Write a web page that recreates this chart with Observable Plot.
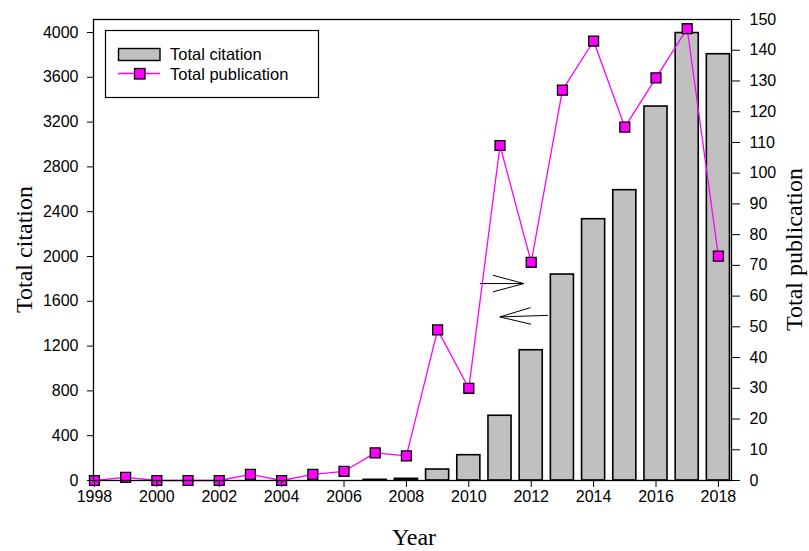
<!DOCTYPE html>
<html><head><meta charset="utf-8">
<script src="https://cdn.jsdelivr.net/npm/d3@7"></script>
<script src="https://cdn.jsdelivr.net/npm/@observablehq/plot@0.6"></script>
<style>
body{margin:0;background:#fff}
#chart{position:relative;width:809px;height:551px}
</style>
</head><body><div id="chart"></div>
<script>
// ---- data ----
const years        = [1998,1999,2000,2001,2002,2003,2004,2005,2006,2007,2008,2009,2010,2011,2012,2013,2014,2015,2016,2017,2018];
const citations    = [0,0,0,0,0,0,0,0,0,6,15,98,226,578,1163,1839,2333,2592,3339,3995,3806];
const publications = [0,1,0,0,0,2,0,2,3,9,8,49,30,109,71,127,143,115,131,147,73];

const xTicks     = [1998,2000,2002,2004,2006,2008,2010,2012,2014,2016,2018];
const leftTicks  = [0,400,800,1200,1600,2000,2400,2800,3200,3600,4000];
const rightTicks = [0,10,20,30,40,50,60,70,80,90,100,110,120,130,140,150];

// annotation arrows (data coordinates): tail year -> tip year, values on left (citation) scale
const arrowFromYear = [2010.37, 2012.55];
const arrowToYear   = [2011.78, 2011.01];
const arrowFromVal  = [1754, 1470];
const arrowToVal    = [1754, 1456];

const citationMax = 4116;          // top of left axis domain
const pubMax = 150;                // top of right axis domain
const k = citationMax / pubMax;

const data = years.map((year, i) => ({year, citation: citations[i], publication: publications[i]}));
const arrows = arrowFromYear.map((_, i) => ({x1: arrowFromYear[i], x2: arrowToYear[i], y1: arrowFromVal[i], y2: arrowToVal[i]}));

function arrowMark(index, scales) {
  const g = d3.create("svg:g").attr("fill", "none").attr("stroke", "#000").attr("stroke-width", 1);
  arrows.forEach(a => {
    const x1 = scales.x(a.x1), y1 = scales.y(a.y1), x2 = scales.x(a.x2), y2 = scales.y(a.y2);
    const ang = Math.atan2(y2 - y1, x2 - x1);
    const L = 32, h = 15 * Math.PI / 180;
    const ax = x2 - L * Math.cos(ang - h), ay = y2 - L * Math.sin(ang - h);
    const bx = x2 - L * Math.cos(ang + h), by = y2 - L * Math.sin(ang + h);
    g.append("path").attr("d", `M${x1},${y1}L${x2},${y2}M${ax},${ay}L${x2},${y2}L${bx},${by}`);
  });
  return g.node();
}

const sans = "'Liberation Sans', Arial, sans-serif";
const serif = "'Liberation Serif', 'Times New Roman', serif";

const plot = Plot.plot({
  width: 809, height: 551,
  marginLeft: 93, marginRight: 78, marginTop: 19, marginBottom: 71,
  style: {fontFamily: sans, fontSize: "16px", color: "#000", background: "#fff", overflow: "visible"},
  x: {domain: [1997.97, 2018.42]},
  y: {domain: [0, citationMax]},
  marks: [
    Plot.rect(data.filter(d => d.citation > 0), {
      x1: d => d.year - 0.37, x2: d => d.year + 0.37, y1: d => 0, y2: "citation",
      fill: "#c0c0c0", stroke: "#000", strokeWidth: 1.6
    }),
    arrowMark,
    Plot.line(data, {x: "year", y: d => d.publication * k, stroke: "#ff00ff", strokeWidth: 1.3}),
    Plot.dot(data, {x: "year", y: d => d.publication * k, symbol: "square", r: 5.6,
      fill: "#ff00ff", stroke: "#000", strokeWidth: 1.3}),
    Plot.axisX({ticks: xTicks, tickFormat: d => String(d), tickSize: 7, tickPadding: 3, label: null}),
    Plot.axisY({ticks: leftTicks, tickFormat: d => String(d), tickSize: 6, tickPadding: 9, label: null, anchor: "left"}),
    Plot.axisY({ticks: rightTicks.map(v => v * k), tickFormat: d => String(Math.round(d / k)),
      tickSize: 8, tickPadding: 10, label: null, anchor: "right"}),
    Plot.frame({stroke: "#000", strokeWidth: 1.3})
  ]
});

const svg = d3.select(plot);
// axis titles
svg.append("text").attr("transform", "translate(32,249.5) rotate(-90)")
  .attr("text-anchor", "middle").attr("font-family", serif).attr("font-size", 24).attr("fill", "#000")
  .text("Total citation");
svg.append("text").attr("transform", "translate(802,249.5) rotate(-90)")
  .attr("text-anchor", "middle").attr("font-family", serif).attr("font-size", 24).attr("fill", "#000")
  .text("Total publication");
svg.append("text").attr("x", 414).attr("y", 545)
  .attr("text-anchor", "middle").attr("font-family", serif).attr("font-size", 24).attr("fill", "#000")
  .text("Year");

// legend
const lg = svg.append("g").attr("font-family", sans).attr("font-size", 16.5).attr("text-anchor", "start");
lg.append("rect").attr("x", 105.5).attr("y", 30.5).attr("width", 213).attr("height", 67)
  .attr("fill", "#fff").attr("stroke", "#000").attr("stroke-width", 1.2);
lg.append("rect").attr("x", 118.5).attr("y", 48.5).attr("width", 41.5).attr("height", 12)
  .attr("fill", "#c0c0c0").attr("stroke", "#000").attr("stroke-width", 1.4);
lg.append("text").attr("x", 170).attr("y", 59.5).attr("fill", "#000").text("Total citation");
lg.append("line").attr("x1", 118).attr("x2", 160).attr("y1", 73.5).attr("y2", 73.5)
  .attr("stroke", "#ff00ff").attr("stroke-width", 1.3);
lg.append("rect").attr("x", 134.5).attr("y", 68.5).attr("width", 10.5).attr("height", 10.5)
  .attr("fill", "#ff00ff").attr("stroke", "#000").attr("stroke-width", 1.3);
lg.append("text").attr("x", 170).attr("y", 80).attr("fill", "#000").text("Total publication");

document.getElementById("chart").appendChild(plot);
</script>
</body></html>
